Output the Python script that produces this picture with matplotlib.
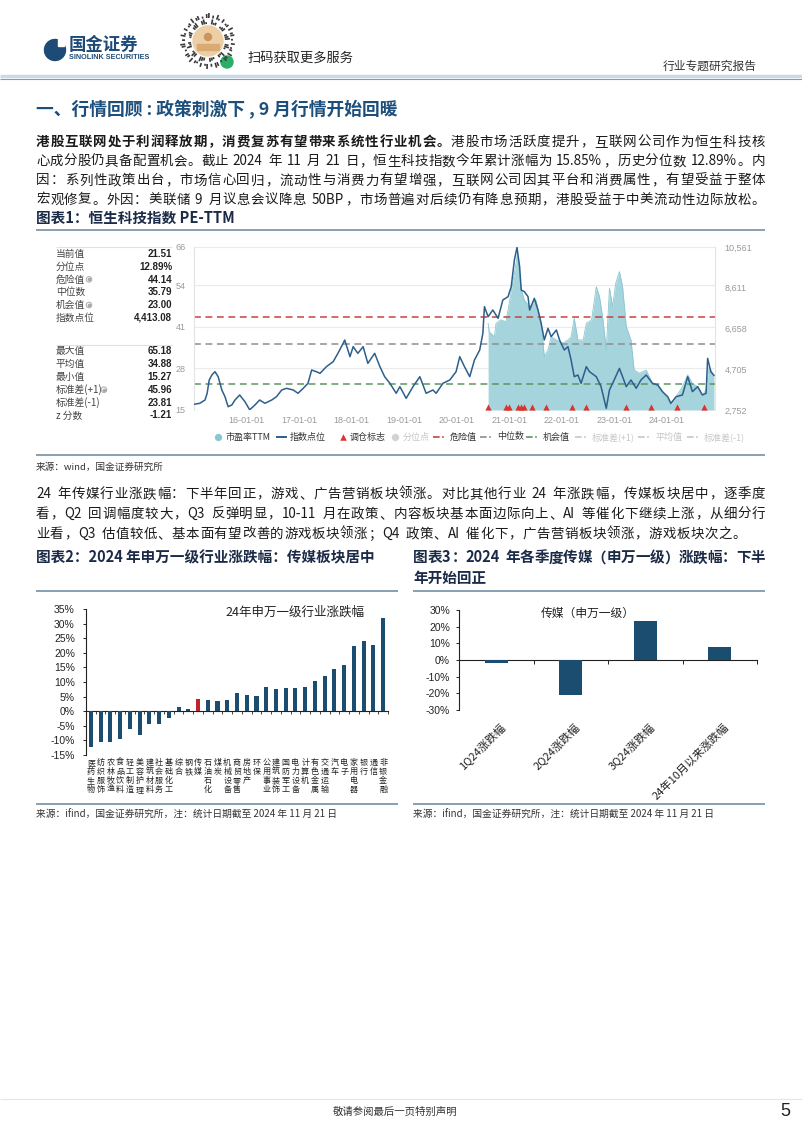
import matplotlib
matplotlib.use('Agg')
import matplotlib.pyplot as plt
from matplotlib.font_manager import FontProperties
from matplotlib.patches import Circle, Rectangle
import numpy as np

# ------------------------------------------------------------------ data
# Chart 1: Hang Seng Tech index points (line, right axis) and PE-TTM (area, left axis)
IDX_YEARS = [2015.00, 2015.11, 2015.21, 2015.25, 2015.29, 2015.34, 2015.40, 2015.46, 2015.53, 2015.59,
             2015.65, 2015.72, 2015.78, 2015.87, 2015.97, 2016.06, 2016.16, 2016.25, 2016.35, 2016.48,
             2016.57, 2016.67, 2016.76, 2016.89, 2016.98, 2017.08, 2017.17, 2017.24, 2017.33, 2017.40,
             2017.52, 2017.65, 2017.74, 2017.84, 2017.87, 2017.97, 2018.03, 2018.12, 2018.22, 2018.31,
             2018.44, 2018.54, 2018.63, 2018.73, 2018.85, 2018.92, 2019.04, 2019.17, 2019.30, 2019.42,
             2019.55, 2019.61, 2019.74, 2019.87, 2019.99, 2020.06, 2020.15, 2020.25, 2020.34, 2020.44,
             2020.50, 2020.53, 2020.60, 2020.69, 2020.79, 2020.88, 2020.98, 2021.04, 2021.10, 2021.15,
             2021.20, 2021.23, 2021.29, 2021.36, 2021.39, 2021.48, 2021.55, 2021.61, 2021.67, 2021.74,
             2021.80, 2021.90, 2021.96, 2022.05, 2022.12, 2022.18, 2022.24, 2022.31, 2022.37, 2022.47,
             2022.53, 2022.66, 2022.75, 2022.85, 2022.91, 2023.00, 2023.10, 2023.16, 2023.23, 2023.32,
             2023.42, 2023.51, 2023.61, 2023.73, 2023.83, 2023.92, 2024.02, 2024.08, 2024.18, 2024.30,
             2024.40, 2024.49, 2024.59, 2024.68, 2024.75, 2024.78, 2024.84, 2024.90]
IDX_VALUES = [3025, 3073, 3231, 3552, 4189, 4429, 4587, 4348, 3710, 3389,
              2910, 2992, 3231, 3471, 3150, 2760, 2992, 3231, 3073, 3231,
              3389, 3710, 3791, 3710, 3552, 3791, 4031, 4668, 4587, 4508,
              4827, 5066, 5467, 5946, 6106, 5306, 5786, 5467, 5786, 4987,
              5467, 4827, 4348, 4031, 3552, 3871, 3311, 3871, 4348, 3552,
              3710, 3552, 4031, 4189, 4587, 5306, 4827, 4348, 5147, 5626,
              6425, 7702, 7223, 7543, 7144, 8022, 8182, 8661, 9939, 10540,
              9619, 8501, 8421, 8182, 7543, 8102, 7543, 6905, 6106, 6665,
              6265, 6585, 6106, 5626, 5786, 5147, 4348, 4429, 4031, 4827,
              4587, 4348, 3871, 2832, 3710, 4189, 4747, 4348, 3871, 4189,
              3791, 4189, 4429, 4031, 3951, 3631, 3389, 3073, 3389, 3471,
              4348, 3631, 3871, 3471, 3552, 5227, 4587, 4413]
PE_YEARS = [2020.60, 2020.62, 2020.72, 2020.75, 2020.84, 2020.94, 2021.10, 2021.16, 2021.23, 2021.29,
            2021.39, 2021.51, 2021.61, 2021.67, 2021.74, 2021.80, 2021.90, 2022.02, 2022.12, 2022.18,
            2022.24, 2022.31, 2022.41, 2022.47, 2022.57, 2022.66, 2022.72, 2022.78, 2022.85, 2022.91,
            2022.97, 2023.03, 2023.10, 2023.16, 2023.23, 2023.32, 2023.38, 2023.48, 2023.61, 2023.73,
            2023.86, 2023.99, 2024.08, 2024.18, 2024.30, 2024.40, 2024.49, 2024.59, 2024.68, 2024.75,
            2024.81, 2024.90]
PE_VALUES = [42.1, 39.5, 37.9, 42.1, 43.2, 42.6, 57.8, 64.0, 52.6, 49.4,
             47.3, 49.4, 42.1, 31.7, 33.8, 37.9, 36.9, 35.9, 36.9, 37.9,
             43.7, 36.9, 36.9, 42.1, 43.2, 53.6, 50.5, 44.2, 33.8, 53.1,
             47.3, 54.7, 58.3, 53.6, 41.1, 36.9, 27.5, 26.5, 27.5, 23.3,
             22.3, 19.2, 16.6, 19.2, 22.3, 26.0, 23.3, 22.3, 19.7, 21.3,
             28.6, 25.5]
REBAL_YEARS = [2020.59, 2020.95, 2020.99, 2021.16, 2021.22, 2021.29, 2021.44, 2021.71,
               2022.20, 2022.47, 2023.23, 2023.71, 2024.20, 2024.71]
REF_NAMES = ['危险值', '中位数', '机会值']
REF_VALUES = [44.14, 35.79, 23.00]
PE_TICKS = [15, 28, 41, 54, 66]
IDX_TICKS = [2752, 4705, 6658, 8611, 10561]
XTICK_YEARS = [2016, 2017, 2018, 2019, 2020, 2021, 2022, 2023, 2024]
XTICK_LABELS = ['16-01-01', '17-01-01', '18-01-01', '19-01-01', '20-01-01',
                '21-01-01', '22-01-01', '23-01-01', '24-01-01']
STAT_LABELS_1 = ['当前值', '分位点', '危险值', '中位数', '机会值', '指数点位']
STAT_VALUES_1 = ['21.51', '12.89%', '44.14', '35.79', '23.00', '4,413.08']
STAT_LABELS_2 = ['最大值', '平均值', '最小值', '标准差(+1)', '标准差(-1)', 'z 分数']
STAT_VALUES_2 = ['65.18', '34.88', '15.27', '45.96', '23.81', '-1.21']

# Chart 2: 2024 Shenwan level-1 industry returns (%)
IND_NAMES = ['医药生物', '纺织服饰', '农林牧渔', '食品饮料', '轻工制造', '美容护理', '建筑材料',
             '社会服务', '基础化工', '综合', '钢铁', '传媒', '石油石化', '煤炭', '机械设备',
             '商贸零售', '房地产', '环保', '公用事业', '建筑装饰', '国防军工', '电力设备',
             '计算机', '有色金属', '交通运输', '汽车', '电子', '家用电器', '银行', '通信', '非银金融']
IND_RETURNS = [-12.1, -10.4, -10.6, -9.4, -6.1, -8.0, -4.5, -4.5, -2.3, 1.4, 0.9, 4.1,
               3.7, 3.4, 3.7, 6.3, 5.7, 5.1, 8.3, 7.6, 7.9, 7.9, 8.3, 10.2, 12.0, 14.3,
               15.8, 22.4, 24.1, 22.8, 32.0]
IND_TICKS = [-15, -10, -5, 0, 5, 10, 15, 20, 25, 30, 35]

# Chart 3: media sector quarterly returns (%)
Q_NAMES = ['1Q24涨跌幅', '2Q24涨跌幅', '3Q24涨跌幅', '24年10月以来涨跌幅']
Q_RETURNS = [-1.8, -20.7, 23.5, 7.8]
Q_TICKS = [-30, -20, -10, 0, 10, 20, 30]

# ------------------------------------------------------------------ setup
W, H = 802, 1133
CJK = ['Noto Sans CJK SC', 'DejaVu Sans']
LAT = ['Liberation Sans', 'DejaVu Sans']
plt.rcParams['font.family'] = CJK
plt.rcParams['axes.unicode_minus'] = False

fig = plt.figure(figsize=(W / 100, H / 100), dpi=100)
fig.patch.set_facecolor('white')
renderer = fig.canvas.get_renderer()

bg = fig.add_axes([0, 0, 1, 1], zorder=-10)
bg.set_xlim(0, W)
bg.set_ylim(H, 0)
bg.axis('off')


def fx(x):
    return x / W


def fy(y):
    return 1 - y / H


def T(x, y, s, size=10, color='#222222', weight='normal', ha='left', va='center', family=None, **kw):
    return fig.text(fx(x), fy(y), s, fontsize=size, color=color, fontweight=weight,
                    ha=ha, va=va, family=family or CJK, **kw)


def add_ax(x0, y0, x1, y1, **kw):
    return fig.add_axes([fx(x0), fy(y1), (x1 - x0) / W, (y1 - y0) / H], **kw)


def hline(y, x0, x1, color, lw):
    bg.plot([x0, x1], [y, y], color=color, lw=lw, solid_capstyle='butt')


def tokens(segs):
    out = []
    for text, wt in segs:
        buf = ''
        for ch in text:
            if ch.isascii() and ch != ' ':
                buf += ch
            else:
                if buf:
                    out.append((buf, wt))
                    buf = ''
                out.append((ch, wt))
        if buf:
            out.append((buf, wt))
    return out


def tok_width(tok, wt, size):
    em = size * 100 / 72
    if tok == ' ':
        return 0.3 * em
    if not tok.isascii():
        return em
    fp = FontProperties(family=CJK, size=size, weight=wt)
    w, h, d = renderer.get_text_width_height_descent(tok, fp, ismath=False)
    return w + 0.08 * em


def text_line(segs, x0, x1, y, size, justify=True, color='#1a1a1a', extra=0.0):
    toks = tokens(segs)
    widths = [tok_width(t, w, size) for t, w in toks]
    total = sum(widths)
    gap = extra
    if justify and len(toks) > 1:
        gap = (x1 - x0 - total) / (len(toks) - 1)
    x = x0
    base = y + 0.36 * size * 100 / 72
    for (t, wt), w in zip(toks, widths):
        if t != ' ':
            fig.text(fx(x), fy(base), t, fontsize=size, fontweight=wt, color=color,
                     ha='left', va='baseline', family=CJK)
        x += w + gap


# ------------------------------------------------------------------ header
bg.add_patch(Circle((55, 50), 10.5, color='#1d4a77'))
bg.add_patch(Rectangle((58, 39), 6, 7, color='white'))
T(69, 45, '国金证券', size=12.5, color='#1d4a77', weight='bold')
T(69, 57.5, 'SINOLINK SECURITIES', size=5.2, color='#1d4a77', weight='bold', family=LAT)

# mini-program code (decorative)
cx, cy = 208, 41
for ring, (r0, step) in enumerate([(17, 6), (23, 5), (28.5, 4)]):
    n = int(360 / step)
    for k in range(n):
        if (k * (ring + 3) * 7) % 5 < 2:
            continue
        a = np.deg2rad(k * step + ring * 2)
        ln = 2 + ((k * 13 + ring * 5) % 4)
        bg.plot([cx + r0 * np.cos(a), cx + (r0 + ln) * np.cos(a)],
                [cy + r0 * np.sin(a), cy + (r0 + ln) * np.sin(a)],
                color='#3a3a3a', lw=1.2, solid_capstyle='butt')
bg.add_patch(Circle((cx, cy), 15, color='#eccfa6'))
bg.add_patch(Circle((cx, cy - 4), 3.5, color='#c9955a'))
bg.add_patch(Rectangle((cx - 11, cy + 3), 22, 6, color='#d9ab73'))
bg.add_patch(Circle((227, 62), 6, color='#2aae67'))
T(248, 58, '扫码获取更多服务', size=9.5, color='#222222')
T(757, 66, '行业专题研究报告', size=8.5, color='#333333', ha='right')
hline(76, 0, W, '#c7dbe8', 2.5)
hline(78.5, 0, W, '#8c9aa6', 0.8)

# ------------------------------------------------------------------ title & para 1
T(36, 110, '一、行情回顾 : 政策刺激下 , 9 月行情开始回暖', size=12.8, color='#1d4f7c', weight='bold')

P1 = [
    [('港股互联网处于利润释放期，消费复苏有望带来系统性行业机会。', 'bold'),
     ('港股市场活跃度提升，互联网公司作为恒生科技核', 'normal')],
    [('心成分股仍具备配置机会。截止 2024 年 11 月 21 日，恒生科技指数今年累计涨幅为 15.85%，历史分位数 12.89%。内', 'normal')],
    [('因：系列性政策出台，市场信心回归，流动性与消费力有望增强，互联网公司因其平台和消费属性，有望受益于整体', 'normal')],
    [('宏观修复。外因：美联储 9 月议息会议降息 50BP，市场普遍对后续仍有降息预期，港股受益于中美流动性边际放松。', 'normal')],
]
for i, segs in enumerate(P1):
    text_line(segs, 36, 765, 141 + i * 19.3, 9.7, justify=True)

CAPC = '#1b2a47'
RULE = '#7f98ae'
T(36, 218, '图表1：恒生科技指数 PE-TTM', size=10.5, color=CAPC, weight='bold')
hline(230, 36, 765, RULE, 1.3)

# ------------------------------------------------------------------ chart 1 stats panel
for i, (lab, val) in enumerate(zip(STAT_LABELS_1, STAT_VALUES_1)):
    y = 254 + i * 12.8
    T(56, y, lab, size=7, color='#444444')
    T(172, y, val, size=7, color='#222222', weight='bold', ha='right', family=LAT)
for i, (lab, val) in enumerate(zip(STAT_LABELS_2, STAT_VALUES_2)):
    y = 351 + i * 12.9
    T(56, y, lab, size=7, color='#444444')
    T(172, y, val, size=7, color='#222222', weight='bold', ha='right', family=LAT)
hline(247, 56, 172, '#e2e2e2', 0.8)
hline(345, 56, 172, '#e2e2e2', 0.8)
for (ix, iy) in [(89, 279.4), (89, 305), (104, 389.7)]:
    bg.scatter([ix], [iy], s=16, facecolor='none', edgecolor='#aaaaaa', lw=0.7)
    bg.scatter([ix], [iy], s=3, color='#aaaaaa')

# ------------------------------------------------------------------ chart 1 plot
REF_COLORS = ['#c9433d', '#8e8e8e', '#5e9460']
ax1 = add_ax(194, 247, 715, 410)
ax1.fill_between(PE_YEARS, 15, PE_VALUES, color='#a5d4dd', lw=0, zorder=1)
ax1.plot(PE_YEARS, PE_VALUES, color='#8cc6d1', lw=0.6, zorder=1.1)
for val, col in zip(REF_VALUES, REF_COLORS):
    ax1.axhline(val, color=col, lw=1.1, ls=(0, (4.5, 3)), zorder=2)
ax1.scatter(REBAL_YEARS, [15.9] * len(REBAL_YEARS), marker='^', s=20, color='#e0312b',
            zorder=4, clip_on=False, lw=0)
ax1.set_xlim(2015.0, 2024.92)
ax1.set_ylim(15, 66)
ax1.set_yticks(PE_TICKS)
ax1.set_yticklabels([str(v) for v in PE_TICKS], family=LAT)
ax1.set_xticks(XTICK_YEARS)
ax1.set_xticklabels(XTICK_LABELS, family=LAT)
ax1.tick_params(length=0, labelsize=6.5, labelcolor='#9a9a9a')
ax1.tick_params(axis='y', pad=6)
ax1.tick_params(axis='x', pad=4)
ax1.grid(axis='y', color='#ebebeb', lw=0.8)
ax1.set_axisbelow(True)
for s in ['top', 'bottom']:
    ax1.spines[s].set_visible(False)
for s in ['left', 'right']:
    ax1.spines[s].set_color('#e3e3e3')

ax1r = ax1.twinx()
ax1r.plot(IDX_YEARS, IDX_VALUES, color='#2d5f8b', lw=1.1, zorder=5)
ax1r.set_ylim(2752, 10561)
ax1r.set_yticks(IDX_TICKS)
ax1r.set_yticklabels([f'{v:,}' for v in IDX_TICKS], family=LAT)
ax1r.tick_params(length=0, labelsize=6.5, labelcolor='#9a9a9a', pad=7)
for s in ax1r.spines.values():
    s.set_visible(False)

# legend of chart 1
LY = 437
ON, OFF = '#333333', '#c6c6c6'
bg.scatter([218], [LY], s=28, color='#8cc7d1', lw=0)
T(226, LY, '市盈率TTM', size=6.5, color=ON)
hline(LY, 276, 287, '#2d5f8b', 1.4)
T(290, LY, '指数点位', size=6.5, color=ON)
bg.scatter([343], [LY], s=22, marker='^', color='#e0312b', lw=0)
T(350, LY, '调仓标志', size=6.5, color=ON)
bg.scatter([395], [LY], s=28, color='#d2d2d2', lw=0)
T(403, LY, '分位点', size=6.5, color=OFF)
legend_lines = [(433, '危险值', REF_COLORS[0], ON), (480, '中位数', REF_COLORS[1], ON),
                (526, '机会值', REF_COLORS[2], ON), (575, '标准差(+1)', OFF, OFF),
                (638, '平均值', OFF, OFF), (687, '标准差(-1)', OFF, OFF)]
for lx, name, lc, tc in legend_lines:
    bg.plot([lx, lx + 13], [LY, LY], color=lc, lw=1.2, ls=(0, (4, 1.5, 1, 1.5)))
    T(lx + 17, LY, name, size=6.5, color=tc)

hline(455, 36, 765, RULE, 1.3)
T(36, 467, '来源：wind，国金证券研究所', size=6.9, color='#333333')

# ------------------------------------------------------------------ para 2
P2 = [
    [('24 年传媒行业涨跌幅：下半年回正，游戏、广告营销板块领涨。对比其他行业 24 年涨跌幅，传媒板块居中，逐季度', 'normal')],
    [('看，Q2 回调幅度较大，Q3 反弹明显，10-11 月在政策、内容板块基本面边际向上、AI 等催化下继续上涨，从细分行', 'normal')],
    [('业看，Q3 估值较低、基本面有望改善的游戏板块领涨；Q4 政策、AI 催化下，广告营销板块领涨，游戏板块次之。', 'normal')],
]
for i, segs in enumerate(P2):
    text_line(segs, 36, 765, 493 + i * 20.0, 9.7, justify=(i < 2), extra=0.55)

T(36, 557, '图表2：2024 年申万一级行业涨跌幅：传媒板块居中', size=10.5, color=CAPC, weight='bold')
text_line([('图表3：2024 年各季度传媒（申万一级）涨跌幅：下半', 'bold')], 413, 765, 557, 10.5,
          justify=True, color=CAPC)
T(413, 578, '年开始回正', size=10.5, color=CAPC, weight='bold')
hline(591, 36, 398, RULE, 1.3)
hline(591, 413, 765, RULE, 1.3)

# ------------------------------------------------------------------ chart 2
NAVY = '#1a4d70'
ax2 = add_ax(86, 609, 388, 755)
xs = np.arange(len(IND_NAMES))
bar_cols = ['#c0232c' if n == '传媒' else NAVY for n in IND_NAMES]
ax2.bar(xs, IND_RETURNS, width=0.42, color=bar_cols, zorder=3)
ax2.set_xlim(-0.5, len(IND_NAMES) - 0.5)
ax2.set_ylim(-15, 35)
ax2.set_yticks(IND_TICKS)
ax2.set_yticklabels([f'{v}%' for v in IND_TICKS], family=LAT, fontsize=7.5)
ax2.spines['bottom'].set_position(('data', 0))
for s in ['top', 'right']:
    ax2.spines[s].set_visible(False)
for s in ['left', 'bottom']:
    ax2.spines[s].set_color('#222222')
    ax2.spines[s].set_linewidth(0.8)
ax2.set_xticks(np.arange(-0.5, len(IND_NAMES), 1))
ax2.set_xticklabels([])
ax2.tick_params(axis='x', direction='out', length=2.2, width=0.6, color='#222222')
ax2.tick_params(axis='y', direction='out', length=2.5, width=0.7, pad=5.5, colors='#222222')
ax2.patch.set_alpha(0)
for i, name in enumerate(IND_NAMES):
    ax2.text(i, -16.0, '\n'.join(name), ha='center', va='top', fontsize=5.8,
             linespacing=1.0, color='#222222', clip_on=False)
T(225, 612, '24年申万一级行业涨跌幅', size=9, color='#222222')

# ------------------------------------------------------------------ chart 3
ax3 = add_ax(459, 610, 757, 710)
qx = np.arange(len(Q_NAMES))
ax3.bar(qx, Q_RETURNS, width=0.31, color=NAVY, zorder=3)
ax3.set_xlim(-0.5, len(Q_NAMES) - 0.5)
ax3.set_ylim(-30, 30)
ax3.set_yticks(Q_TICKS)
ax3.set_yticklabels([f'{v}%' for v in Q_TICKS], family=LAT, fontsize=7.5)
ax3.spines['bottom'].set_position(('data', 0))
for s in ['top', 'right']:
    ax3.spines[s].set_visible(False)
for s in ['left', 'bottom']:
    ax3.spines[s].set_color('#222222')
    ax3.spines[s].set_linewidth(0.8)
ax3.set_xticks(np.arange(0.5, len(Q_NAMES), 1))
ax3.set_xticklabels([])
ax3.tick_params(axis='x', direction='out', length=3, width=0.7, color='#222222')
ax3.tick_params(axis='y', direction='out', length=2.5, width=0.7, pad=4, colors='#222222')
ax3.patch.set_alpha(0)
for i, name in enumerate(Q_NAMES):
    ax3.text(i + 0.05, -37, name, rotation=45, ha='right', va='top', rotation_mode='anchor',
             fontsize=8, color='#222222', clip_on=False)
T(588, 613, '传媒（申万一级）', size=8.5, color='#222222', ha='center')

hline(804, 36, 398, RULE, 1.3)
hline(804, 413, 765, RULE, 1.3)
T(36, 815, '来源：ifind，国金证券研究所，注：统计日期截至 2024 年 11 月 21 日', size=7, color='#333333')
T(413, 815, '来源：ifind，国金证券研究所，注：统计日期截至 2024 年 11 月 21 日', size=7, color='#333333')

# ------------------------------------------------------------------ footer
hline(1099, 0, W, '#dfe6ec', 0.8)
T(395, 1112, '敬请参阅最后一页特别声明', size=7.5, color='#333333', ha='center')
T(785, 1112, '5', size=13, color='#222222', ha='center', family=LAT)

fig.savefig('out.png', dpi=100, facecolor='white')
